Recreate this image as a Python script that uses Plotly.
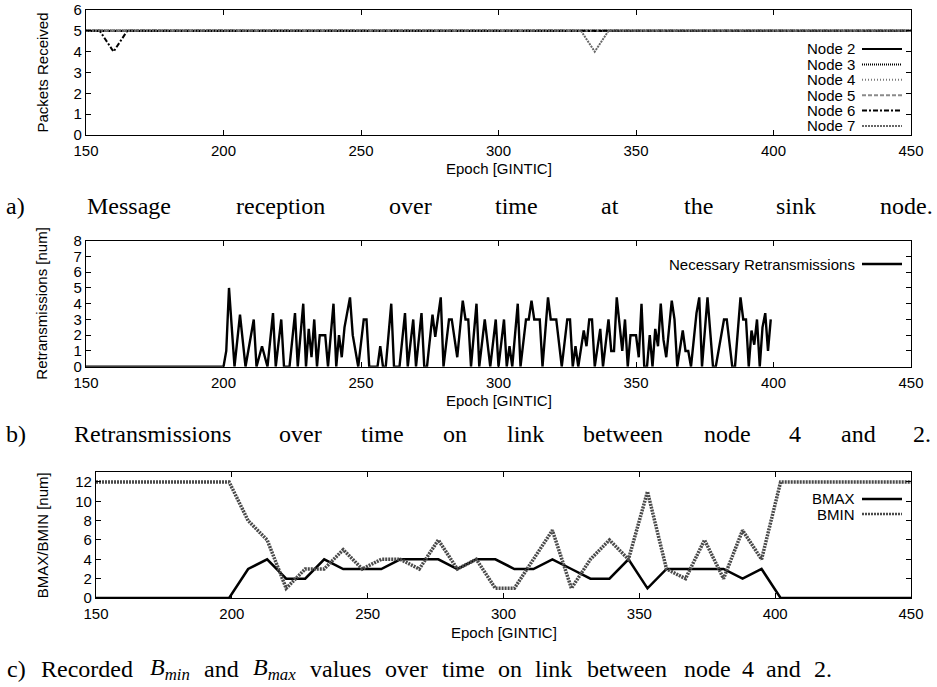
import plotly.graph_objects as go

W, H = 937, 687

# ---------------- data ----------------
# (a) packets received at the sink, sampled every 5 epochs
epochs_a = list(range(150, 451, 5))
node_names = ["Node 2", "Node 3", "Node 4", "Node 5", "Node 6", "Node 7"]
packets_node2 = [5] * 61
packets_node3 = [5] * 61
packets_node4 = [5] * 61
packets_node5 = [5] * 61
packets_node6 = [5, 5, 4] + [5] * 58          # dip at epoch 160
packets_node7 = [5] * 37 + [4] + [5] * 23     # dip at epoch 335

# (b) necessary retransmissions (vertices)
retrans_epoch = [
    150, 200, 201, 202, 204, 206, 208, 211, 212, 214,
    216, 218, 219, 221, 222, 224, 226, 227, 229, 230,
    231, 232, 233, 234, 235, 237, 238, 240, 241, 242,
    243, 244, 246, 247, 249, 251, 252, 253, 256, 257,
    258, 259, 261, 262, 264, 266, 267, 269, 270, 272,
    273, 274, 276, 277, 279, 280, 282, 283, 285, 287,
    288, 289, 290, 292, 293, 295, 297, 299, 300, 302,
    303, 304, 305, 307, 308, 309, 310, 311, 312, 313,
    315, 316, 318, 319, 321, 323, 325, 326, 327, 328,
    329, 331, 332, 333, 334, 335, 337, 338, 340, 341,
    342, 343, 345, 346, 347, 348, 350, 351, 352, 353,
    354, 355, 356, 357, 358, 359, 360, 361, 363, 364,
    365, 367, 368, 369, 370, 372, 373, 374, 376, 378,
    379, 382, 383, 385, 386, 388, 389, 390, 391, 392,
    393, 394, 395, 396, 397, 398, 399,
]
retrans_value = [
    0, 0, 1, 5, 0, 3.3, 0, 3, 0, 1.3,
    0, 3.4, 0, 3, 0, 0, 3.4, 0, 4, 0,
    2.4, 0.6, 3, 0, 2, 2, 0, 4, 0, 2,
    0.6, 2.5, 4.4, 2, 0, 3, 3, 0, 0, 1.3,
    0, 0, 4, 0, 0, 3.4, 0, 3, 0, 3.4,
    0, 0, 3.3, 1.9, 4.4, 0, 3, 3, 0.6, 4.2,
    3, 3, 0, 4, 0, 3, 0, 3, 0, 3,
    0, 1.3, 0, 4, 0, 1.7, 3, 3, 4.2, 3,
    3, 0, 4.4, 3, 3, 0, 3, 3, 0, 1.3,
    0, 2.3, 1.3, 3, 3, 0, 2.4, 0, 3, 1,
    1, 4.4, 1, 3, 0, 2, 2, 0.6, 4, 0,
    0, 2, 0, 2.4, 1.3, 4, 1.7, 0.6, 4.2, 3,
    0, 2.3, 1, 1, 0, 3.4, 4.4, 0, 4.4, 0,
    0, 3, 3, 0, 0, 4.4, 3, 3, 0, 2.3,
    1.4, 3, 0, 2.5, 3.4, 1, 3,
]

# (c) recorded Bmax / Bmin, sampled every 7 epochs
epochs_c = list(range(150, 452, 7))
bmax = [0, 0, 0, 0, 0, 0, 0, 0,
        3, 4, 2, 2, 4, 3, 3, 3, 4, 4, 4, 3,
        4, 4, 3, 3, 4, 3, 2, 2, 4, 1, 3, 3,
        3, 3, 2, 3,
        0, 0, 0, 0, 0, 0, 0, 0]
bmin = [12, 12, 12, 12, 12, 12, 12, 12,
        8, 6, 1, 3, 3, 5, 3, 4, 4, 3, 6, 3,
        4, 1, 1, 4, 7, 1, 4, 6, 4, 11, 3, 2,
        6, 2, 7, 4,
        12, 12, 12, 12, 12, 12, 12, 12]

x_ticks = [150, 200, 250, 300, 350, 400, 450]

# ---------------- styles ----------------
SANS = "Liberation Sans"
SERIF = "Liberation Serif"
FS = 15

node_styles = [
    dict(color="#000000", width=2.2, dash="solid"),
    dict(color="#000000", width=2, dash="1px,1px"),
    dict(color="#7a7a7a", width=2, dash="1px,2px"),
    dict(color="#8a8a8a", width=2, dash="4px,2px"),
    dict(color="#000000", width=2, dash="5px,2px,2px,2px"),
    dict(color="#666666", width=2, dash="2px,1px"),
]
bmax_style = dict(color="#000000", width=2.5, dash="solid")
bmin_style = dict(color="#4a4a4a", width=3.5, dash="2px,1px")
retrans_style = dict(color="#000000", width=2.4, dash="solid")


def fx(p):
    return p / W


def fy(p):
    return 1 - p / H


# panel boxes in pixels: (left, right, top, bottom)
PA = (86, 911, 10, 135)
PB = (86, 911, 240.7, 366.7)
PC = (96, 911, 472.3, 598)

fig = go.Figure()

packets = [packets_node2, packets_node3, packets_node4,
           packets_node5, packets_node6, packets_node7]
for name, vals, st in zip(node_names, packets, node_styles):
    fig.add_trace(go.Scatter(x=epochs_a, y=vals, mode="lines", name=name,
                             line=st, xaxis="x", yaxis="y", showlegend=False))

fig.add_trace(go.Scatter(x=retrans_epoch, y=retrans_value, mode="lines",
                         name="Necessary Retransmissions", line=retrans_style,
                         xaxis="x2", yaxis="y2", showlegend=False))

fig.add_trace(go.Scatter(x=epochs_c, y=bmax, mode="lines", name="BMAX",
                         line=bmax_style, xaxis="x3", yaxis="y3", showlegend=False))
fig.add_trace(go.Scatter(x=epochs_c, y=bmin, mode="lines", name="BMIN",
                         line=bmin_style, xaxis="x3", yaxis="y3", showlegend=False))

axis_common = dict(showline=True, linecolor="black", linewidth=1.3, mirror="ticks",
                   ticks="inside", ticklen=5, tickwidth=1, tickcolor="black",
                   showgrid=False, zeroline=False, automargin=False,
                   tickfont=dict(family=SANS, size=FS, color="black"))


def xaxis_for(box, anchor):
    return dict(axis_common, domain=[fx(box[0]), fx(box[1])], anchor=anchor,
                range=[150, 450], tickmode="array", tickvals=x_ticks,
                ticklabelstandoff=2)


def yaxis_for(box, anchor, rng, dtick):
    return dict(axis_common, domain=[fy(box[3]), fy(box[2])], anchor=anchor,
                range=rng, tickmode="linear", tick0=0, dtick=dtick)


annotations = []
shapes = []


def add_text(text, xpx, ypx, size=FS, xanchor="center", family=SANS, angle=0):
    annotations.append(dict(text=text, x=fx(xpx), y=fy(ypx), xref="paper", yref="paper",
                            xanchor=xanchor, yanchor="middle", showarrow=False,
                            textangle=angle, borderpad=0,
                            font=dict(family=family, size=size, color="black")))


# axis titles
for box, ytitle in [(PA, "Packets Received"), (PB, "Retransmissions [num]"),
                    (PC, "BMAX/BMIN [num]")]:
    add_text("Epoch [GINTIC]", (box[0] + box[1]) / 2, box[3] + 34)
    add_text(ytitle, 42, (box[2] + box[3]) / 2, angle=-90)


# custom gnuplot-like legends (text right, sample line on the right)
def legend_entry(label, style, ypx):
    add_text(label, 856, ypx, xanchor="right")
    shapes.append(dict(type="line", xref="paper", yref="paper",
                       x0=fx(862), x1=fx(902), y0=fy(ypx), y1=fy(ypx),
                       line=dict(color=style["color"], width=min(style["width"], 2.5),
                                 dash=style["dash"])))


for i, (name, st) in enumerate(zip(node_names, node_styles)):
    legend_entry(name, st, 49 + i * 15.4)
legend_entry("Necessary Retransmissions", retrans_style, 264)
legend_entry("BMAX", bmax_style, 499)
legend_entry("BMIN", bmin_style, 514)

# captions (words placed as in the typeset original)
CAP = 24
cap_a = [("a)", 15), ("Message", 129), ("reception", 280), ("over", 410), ("time", 516),
         ("at", 610), ("the", 698), ("sink", 796), ("node.", 906)]
cap_b = [("b)", 16), ("Retransmissions", 152), ("over", 300), ("time", 382), ("on", 455),
         ("link", 525), ("between", 623), ("node", 727), ("4", 795), ("and", 858),
         ("2.", 922)]
cap_c = [("c)", 16), ("Recorded", 87), ("<i>B</i><sub><i>min</i></sub>", 170), ("and", 221),
         ("<i>B</i><sub><i>max</i></sub>", 274), ("values", 340), ("over", 406),
         ("time", 463), ("on", 510), ("link", 553), ("between", 627), ("node", 707),
         ("4", 748), ("and", 783), ("2.", 823)]
for word, xc in cap_a:
    add_text(word, xc, 206, size=CAP, family=SERIF)
for word, xc in cap_b:
    add_text(word, xc, 434, size=CAP, family=SERIF)
for word, xc in cap_c:
    add_text(word, xc, 669, size=CAP, family=SERIF)

fig.update_layout(
    width=W, height=H,
    margin=dict(l=0, r=0, t=0, b=0, autoexpand=False),
    paper_bgcolor="white", plot_bgcolor="white",
    showlegend=False,
    xaxis=xaxis_for(PA, "y"),
    yaxis=yaxis_for(PA, "x", [0, 6], 1),
    xaxis2=xaxis_for(PB, "y2"),
    yaxis2=yaxis_for(PB, "x2", [0, 8], 1),
    xaxis3=xaxis_for(PC, "y3"),
    yaxis3=yaxis_for(PC, "x3", [0, 13], 2),
    annotations=annotations,
    shapes=shapes,
)

fig.write_html("out.html", config={"displayModeBar": False})

# remove the browser's default page margin so the figure sits at (0, 0)
with open("out.html", "r", encoding="utf-8") as fh:
    html = fh.read()
html = html.replace("<body>", '<body style="margin:0;padding:0;overflow:hidden;">', 1)
html = html.replace("<head>", '<head><style>html,body{margin:0;padding:0;}</style>', 1)
with open("out.html", "w", encoding="utf-8") as fh:
    fh.write(html)
